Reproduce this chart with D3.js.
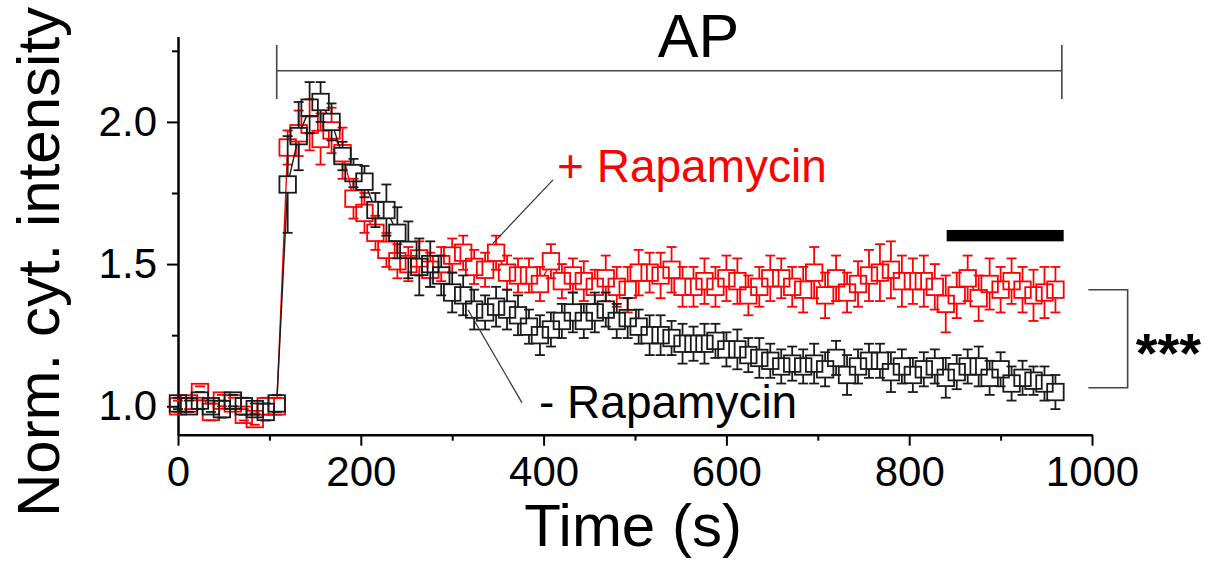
<!DOCTYPE html>
<html>
<head>
<meta charset="utf-8">
<script src="https://cdn.jsdelivr.net/npm/d3@7"></script>
<style>
  html, body { margin: 0; padding: 0; background: #fff; }
  svg { display: block; }
  text { font-family: "Liberation Sans", Arial, Helvetica, sans-serif; }
</style>
</head>
<body>
<svg id="chart" width="1212" height="562"></svg>
<script>
// ---------------- DATA ----------------
const timeSec = [0,12,24,36,48,60,72,84,96,108,120,132,144,156,168,180,192,204,216,228,
  240,252,264,276,288,300,312,324,336,348,360,372,384,396,408,420,432,444,456,468,
  480,492,504,516,528,540,552,564,576,588,600,612,624,636,648,660,672,684,696,708,
  720,732,744,756,768,780,792,804,816,828,840,852,864,876,888,900,912,924,936,948,960];

const minusRapa = [1.01,1.00,1.02,1.00,0.99,1.02,1.00,0.99,0.98,1.01,
  1.78,1.95,2.05,2.07,2.00,1.88,1.82,1.79,1.69,1.69,1.61,1.55,1.49,1.50,1.46,1.40,
  1.39,1.34,1.33,1.35,1.34,1.32,1.28,1.25,1.27,1.30,1.33,1.30,1.33,1.34,1.30,1.31,
  1.28,1.25,1.25,1.24,1.22,1.22,1.22,1.23,1.20,1.20,1.18,1.17,1.16,1.14,
  1.15,1.14,1.15,1.13,1.17,1.11,1.14,1.16,1.16,1.12,1.14,1.11,1.13,1.14,1.10,1.12,
  1.14,1.14,1.10,1.13,1.08,1.10,1.09,1.08,1.05];
const minusRapaErr = [0.02,0.02,0.03,0.02,0.03,0.02,0.03,0.02,0.03,0.03,
  0.17,0.12,0.09,0.07,0.065,0.05,0.05,0.055,0.06,0.09,0.09,0.10,0.10,0.08,0.07,0.07,
  0.07,0.07,0.06,0.07,0.07,0.07,0.06,0.07,0.06,0.06,0.07,0.06,0.07,0.06,0.06,0.07,
  0.06,0.07,0.07,0.06,0.07,0.06,0.07,0.06,0.06,0.07,0.06,0.07,0.06,0.06,
  0.06,0.06,0.07,0.06,0.06,0.07,0.06,0.06,0.06,0.07,0.06,0.06,0.06,0.06,0.07,0.06,
  0.06,0.07,0.06,0.06,0.06,0.06,0.05,0.06,0.06];

const plusRapa = [1.00,1.01,1.05,0.98,1.02,1.01,0.97,0.955,1.00,1.00,
  1.91,1.96,1.99,1.94,1.97,1.89,1.73,1.68,1.61,1.55,1.51,1.50,1.52,1.48,1.50,1.53,
  1.54,1.49,1.48,1.54,1.47,1.46,1.46,1.43,1.51,1.44,1.46,1.44,1.42,1.45,1.42,1.41,
  1.47,1.47,1.46,1.48,1.42,1.42,1.44,1.42,1.45,1.44,1.39,1.42,1.45,1.45,
  1.42,1.41,1.47,1.39,1.45,1.40,1.43,1.46,1.47,1.48,1.44,1.44,1.44,1.42,1.36,1.39,
  1.45,1.38,1.43,1.41,1.44,1.41,1.39,1.40,1.41];
const plusRapaErr = [0.02,0.02,0.02,0.03,0.02,0.02,0.02,0.02,0.03,0.03,
  0.06,0.08,0.09,0.09,0.08,0.09,0.07,0.07,0.06,0.06,0.06,0.06,0.06,0.06,0.06,0.06,
  0.06,0.06,0.06,0.06,0.06,0.06,0.06,0.06,0.06,0.06,0.06,0.07,0.06,0.08,0.07,0.08,
  0.08,0.07,0.08,0.08,0.07,0.07,0.08,0.07,0.08,0.08,0.07,0.07,0.08,0.07,
  0.07,0.08,0.09,0.08,0.08,0.07,0.08,0.09,0.10,0.10,0.09,0.08,0.09,0.08,0.10,0.08,
  0.08,0.08,0.09,0.08,0.08,0.08,0.09,0.09,0.08];

const xTicks = [0, 200, 400, 600, 800, 1000];
const xMinorTicks = [100, 300, 500, 700, 900];
const yTicks = [1.0, 1.5, 2.0];
const yMinorTicks = [1.25, 1.75, 2.25];

const apWindow = [108, 967];          // stimulation period (s)
const sigBarWindow = [841, 969];      // black bar (s)
const sigBarLevel = [1.58, 1.62];
const sigBracket = [996, 1039];       // x extent of *** bracket (s)
const sigLevels = [1.41, 1.065];      // end values compared

// ---------------- LAYOUT ----------------
const svg = d3.select("#chart");
const x = d3.scaleLinear().domain([0, 1000]).range([178, 1092]);
const y = d3.scaleLinear().domain([0.9, 2.3]).range([434.7, 36.6]);
const SQ = 16.5, H = SQ / 2, CAP = 10;

// ---------------- AXES ----------------
const axisColor = "#000";
const gx = svg.append("g").attr("transform", `translate(0,${y(0.9)})`)
  .call(d3.axisBottom(x).tickValues(xTicks).tickSize(11).tickSizeOuter(0).tickPadding(10)
    .tickFormat(d3.format("d")));
gx.append("g").call(d3.axisBottom(x).tickValues(xMinorTicks).tickSize(6).tickFormat(""))
  .select(".domain").remove();

const gy = svg.append("g").attr("transform", `translate(${x(0)},0)`)
  .call(d3.axisLeft(y).tickValues(yTicks).tickSize(11).tickSizeOuter(0).tickPadding(10)
    .tickFormat(d3.format(".1f")));
gy.append("g").call(d3.axisLeft(y).tickValues(yMinorTicks).tickSize(6).tickFormat(""))
  .select(".domain").remove();

svg.selectAll(".domain").attr("stroke", axisColor).attr("stroke-width", 2.5);
svg.selectAll(".tick line").attr("stroke", axisColor).attr("stroke-width", 2);
svg.selectAll(".tick text").attr("font-size", 42).attr("fill", "#000")
  .style("font-family", '"Liberation Sans", Arial, sans-serif');

// axis titles
svg.append("text").attr("x", (x(0) + x(1000)) / 2 - 2).attr("y", 546)
  .attr("text-anchor", "middle").attr("font-size", 60).text("Time (s)");
svg.append("text").attr("transform", "translate(59,262) rotate(-90)")
  .attr("text-anchor", "middle").attr("font-size", 60).text("Norm. cyt. intensity");

// ---------------- SERIES ----------------
function drawSeries(vals, errs, color) {
  const g = svg.append("g");
  const pts = timeSec.map((t, i) => ({ px: x(t), py: y(vals[i]), e: errs[i] * (y(0) - y(1)) }));
  // connecting line, gapped at symbols
  for (let i = 0; i < pts.length - 1; i++) {
    const a = pts[i], b = pts[i + 1];
    const dx = b.px - a.px, dy = b.py - a.py;
    const m = Math.max(Math.abs(dx), Math.abs(dy));
    const f = H / m;
    if (2 * f >= 1) continue;
    g.append("line")
      .attr("x1", a.px + dx * f).attr("y1", a.py + dy * f)
      .attr("x2", b.px - dx * f).attr("y2", b.py - dy * f)
      .attr("stroke", color).attr("stroke-width", 1.4);
  }
  // error bars
  pts.forEach(p => {
    if (p.e > H) {
      g.append("line").attr("x1", p.px).attr("x2", p.px)
        .attr("y1", p.py - H).attr("y2", p.py - p.e)
        .attr("stroke", color).attr("stroke-width", 1.8);
      g.append("line").attr("x1", p.px).attr("x2", p.px)
        .attr("y1", p.py + H).attr("y2", p.py + p.e)
        .attr("stroke", color).attr("stroke-width", 1.8);
    }
    [p.py - p.e, p.py + p.e].forEach(cy => {
      g.append("line").attr("x1", p.px - CAP / 2).attr("x2", p.px + CAP / 2)
        .attr("y1", cy).attr("y2", cy)
        .attr("stroke", color).attr("stroke-width", 1.8);
    });
  });
  // squares
  g.selectAll("rect").data(pts).join("rect")
    .attr("x", d => d.px - H).attr("y", d => d.py - H)
    .attr("width", SQ).attr("height", SQ)
    .attr("fill", "none").attr("stroke", color).attr("stroke-width", 1.8);
}
drawSeries(plusRapa, plusRapaErr, "#ff0000");
drawSeries(minusRapa, minusRapaErr, "#1a1a1a");

// ---------------- ANNOTATIONS ----------------
const annColor = "#444";
// AP bracket
const apY = y(2.025 + 0.2 + 0.02) ;
svg.append("line").attr("x1", x(apWindow[0])).attr("x2", x(apWindow[1]))
  .attr("y1", 70.7).attr("y2", 70.7).attr("stroke", annColor).attr("stroke-width", 1.6);
[apWindow[0], apWindow[1]].forEach(t => {
  svg.append("line").attr("x1", x(t)).attr("x2", x(t)).attr("y1", 45).attr("y2", 99)
    .attr("stroke", annColor).attr("stroke-width", 1.6);
});
svg.append("text").attr("x", x(569.5)).attr("y", 57).attr("text-anchor", "middle")
  .attr("font-size", 61).text("AP");

// black significance bar
svg.append("rect").attr("x", x(sigBarWindow[0])).attr("y", y(sigBarLevel[1]))
  .attr("width", x(sigBarWindow[1]) - x(sigBarWindow[0]))
  .attr("height", y(sigBarLevel[0]) - y(sigBarLevel[1])).attr("fill", "#000");

// *** bracket
svg.append("path")
  .attr("d", `M${x(sigBracket[0])},${y(sigLevels[0])}H${x(sigBracket[1])}V${y(sigLevels[1])}H${x(sigBracket[0])}`)
  .attr("fill", "none").attr("stroke", annColor).attr("stroke-width", 1.6);
svg.append("text").attr("x", x(sigBracket[1]) + 8).attr("y", 372)
  .attr("font-size", 56).attr("font-weight", "bold").text("***");

// labels with leader lines
svg.append("line").attr("x1", x(410.3)).attr("y1", y(1.796)).attr("x2", x(344.6)).attr("y2", y(1.573))
  .attr("stroke", "#333").attr("stroke-width", 1.2);
svg.append("line").attr("x1", x(317.3)).attr("y1", y(1.339)).attr("x2", x(376.4)).attr("y2", y(1.012))
  .attr("stroke", "#333").attr("stroke-width", 1.2);
svg.append("text").attr("x", x(414.7)).attr("y", 181.7).attr("font-size", 46)
  .attr("fill", "#ff0000").text("+ Rapamycin");
svg.append("text").attr("x", x(395)).attr("y", 418.3).attr("font-size", 46)
  .attr("fill", "#000").text("- Rapamycin");
</script>
</body>
</html>
